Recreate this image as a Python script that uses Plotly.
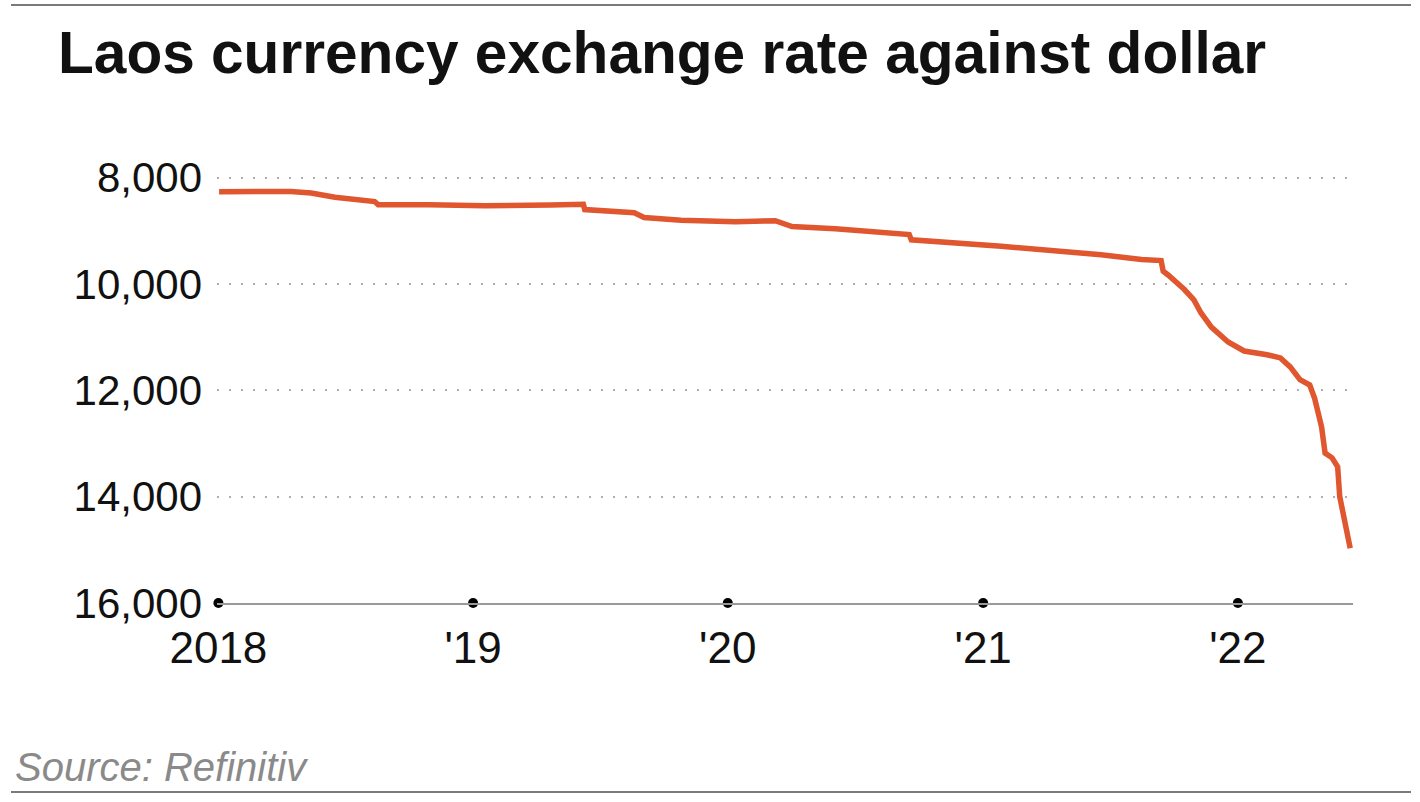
"""Laos kip vs US dollar line chart"""
import plotly.graph_objects as go

# data
dates = [
    '2018-01-02', '2018-03-05', '2018-04-15', '2018-05-14', '2018-06-17', '2018-08-13',
    '2018-08-18', '2018-10-30', '2019-01-18', '2019-04-22', '2019-06-08', '2019-06-10',
    '2019-08-20', '2019-09-03', '2019-10-26', '2020-01-12', '2020-03-09', '2020-04-02',
    '2020-06-03', '2020-09-17', '2020-09-20', '2021-01-27', '2021-04-09', '2021-06-19',
    '2021-08-16', '2021-09-13', '2021-09-16', '2021-09-23', '2021-10-16', '2021-10-30',
    '2021-11-09', '2021-11-24', '2021-12-18', '2022-01-10', '2022-02-12', '2022-03-03',
    '2022-03-17', '2022-03-31', '2022-04-14', '2022-04-21', '2022-04-26', '2022-05-01',
    '2022-05-06', '2022-05-16', '2022-05-24', '2022-05-27', '2022-06-11',
]
kip_per_usd = [
    8265, 8260, 8260, 8290, 8370, 8450,
    8510, 8510, 8530, 8515, 8500, 8600,
    8660, 8750, 8800, 8830, 8810, 8920,
    8960, 9070, 9170, 9290, 9360, 9450,
    9540, 9560, 9760, 9830, 10100, 10300,
    10540, 10810, 11090, 11260, 11330, 11390,
    11560, 11800, 11900, 12150, 12420, 12690,
    13180, 13270, 13440, 14000, 14970,
]

year_ticks = ['2018-01-01', '2019-01-01', '2020-01-01', '2021-01-01', '2022-01-01']
year_labels = ['2018', "'19", "'20", "'21", "'22"]
y_ticks = [8000, 10000, 12000, 14000, 16000]

LINE_COLOR = '#e0562f'
FONT = 'Arial, Liberation Sans, sans-serif'

W, H = 1420, 802
# plot area in pixels (y range 7950..16000, so 8000 lands near y=178)
PL, PR, PT, PB = 217, 1353, 175, 603


def px_x(px):
    return (px - PL) / (PR - PL)


def px_y(py):
    return (PB - py) / (PB - PT)


fig = go.Figure()

fig.add_trace(go.Scatter(
    x=dates, y=kip_per_usd, mode='lines',
    line=dict(color=LINE_COLOR, width=5.5),
    hoverinfo='x+y', showlegend=False,
))

# black dots on the baseline at each year tick
fig.add_trace(go.Scatter(
    x=year_ticks, y=[16000] * len(year_ticks), mode='markers',
    marker=dict(color='black', size=10),
    cliponaxis=False, hoverinfo='skip', showlegend=False,
))

fig.update_layout(
    width=W, height=H,
    margin=dict(l=PL, r=W - PR, t=PT, b=H - PB, pad=0),
    plot_bgcolor='white', paper_bgcolor='white',
    font=dict(family=FONT, color='#111111', size=40),
    showlegend=False,
)

fig.update_xaxes(
    type='date',
    range=['2017-12-30', '2022-06-15'],
    tickvals=year_ticks, ticktext=year_labels,
    showgrid=False, zeroline=False,
    showline=True, linecolor='#999999', linewidth=2,
    ticks='', ticklabelstandoff=5,
    tickfont=dict(size=44, family=FONT, color='#111111'),
)
fig.update_yaxes(
    range=[16000, 7950],
    tickvals=y_ticks, tickformat=',d',
    showgrid=True, gridcolor='#b0b0b0', gridwidth=2, griddash='2px,10px',
    zeroline=False, showline=False,
    ticks='', ticklabelstandoff=14,
    tickfont=dict(size=42, family=FONT, color='#111111'),
)

# title and source
fig.add_annotation(
    text='<b>Laos currency exchange rate against dollar</b>',
    xref='paper', yref='paper', x=px_x(56), y=px_y(53),
    xanchor='left', yanchor='middle', showarrow=False,
    font=dict(size=58.6, family=FONT, color='#111111'),
)
fig.add_annotation(
    text='<i>Source: Refinitiv</i>',
    xref='paper', yref='paper', x=px_x(13), y=px_y(767),
    xanchor='left', yanchor='middle', showarrow=False,
    font=dict(size=40, family=FONT, color='#8a8a8a'),
)

# thin rules at the top and bottom of the graphic
for py in (5, 792):
    fig.add_shape(
        type='line', xref='paper', yref='paper',
        x0=px_x(11), x1=px_x(1411), y0=px_y(py), y1=px_y(py),
        line=dict(color='#7a7a7a', width=2),
    )

# drop the default body margin so the figure sits at the page origin
fig.write_html(
    'out.html',
    config={'displayModeBar': False},
    post_script="document.body.style.margin='0';",
)
